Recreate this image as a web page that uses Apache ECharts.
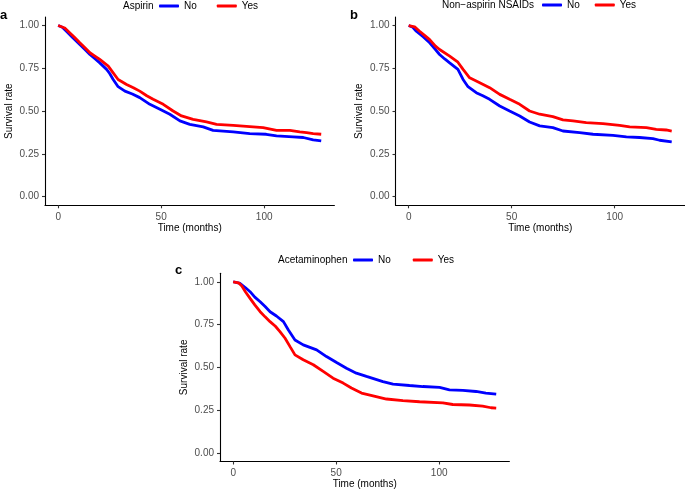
<!DOCTYPE html>
<html>
<head>
<meta charset="utf-8">
<script src="https://cdn.jsdelivr.net/npm/echarts@6/dist/echarts.min.js"></script>
<style>
  html, body { margin: 0; padding: 0; background: #fff; }
  #chart { width: 685px; height: 495px; }
</style>
</head>
<body>
<div id="chart"></div>
<script>
// ---- data (months, survival rate) ----
const xTicks = [0, 50, 100];
const yTicks = [0, 0.25, 0.5, 0.75, 1.0];
const yTickLabels = ['0.00', '0.25', '0.50', '0.75', '1.00'];

const aspirinNo = [
  [0,1.0],[2,0.99],[4,0.967],[7,0.93],[10.5,0.889],[13,0.86],[15.4,0.831],[18,0.805],[20.2,0.782],[23.5,0.744],
  [25,0.72],[26.7,0.685],[29.1,0.643],[32.4,0.617],[36,0.6],[39.6,0.579],[44.5,0.54],[49.4,0.511],[54.2,0.482],
  [59.1,0.443],[63.9,0.423],[70.4,0.408],[75.2,0.388],[85,0.379],[93,0.369],[101,0.365],[106,0.355],[114,0.35],
  [119,0.346],[123.8,0.332],[127.7,0.326]
];
const aspirinYes = [
  [0,1.0],[3.2,0.986],[5.7,0.957],[8,0.93],[10.5,0.899],[13,0.87],[15.4,0.841],[18,0.82],[20.2,0.802],[24.3,0.763],
  [26.7,0.724],[29.1,0.685],[33.2,0.656],[36.5,0.637],[39.6,0.617],[43,0.59],[46.1,0.569],[51,0.54],[55.8,0.501],
  [59.9,0.472],[65.5,0.452],[72,0.437],[76.9,0.423],[85,0.417],[93,0.41],[99.5,0.404],[106,0.388],[112.5,0.388],
  [117.3,0.379],[120.6,0.375],[123.8,0.369],[127.7,0.365]
];
const nsaidNo = [
  [0,1.0],[2,0.99],[3.7,0.967],[7,0.935],[10.2,0.899],[13,0.86],[15,0.831],[17.5,0.805],[19.9,0.782],[23.9,0.744],
  [26.4,0.685],[28.8,0.643],[32.8,0.608],[36,0.59],[39.3,0.569],[44.2,0.53],[49,0.501],[53.9,0.472],[58.7,0.437],
  [63.6,0.414],[70,0.404],[74.9,0.384],[83,0.375],[89.5,0.365],[99.2,0.359],[105.7,0.35],[112.1,0.346],
  [118.6,0.34],[121.8,0.33],[127.7,0.32]
];
const nsaidYes = [
  [0,1.0],[2.9,0.992],[5.3,0.967],[8,0.94],[10.2,0.918],[13,0.88],[15,0.86],[19.9,0.821],[23.9,0.786],[26.4,0.744],
  [29.6,0.695],[34.5,0.666],[39.3,0.637],[44.2,0.598],[49,0.569],[53.9,0.54],[58.7,0.501],[63.6,0.482],[70,0.468],
  [74.9,0.449],[79.8,0.443],[86.2,0.433],[94.3,0.427],[102.4,0.417],[107.3,0.408],[115.4,0.404],[120.2,0.394],
  [125,0.39],[127.7,0.384]
];
const acetNo = [
  [0,1.0],[3.4,0.99],[6,0.965],[8.2,0.942],[10.5,0.91],[13.1,0.883],[15.5,0.855],[17.9,0.825],[21,0.8],[24.4,0.767],
  [26.8,0.718],[30,0.66],[34,0.631],[40.5,0.602],[45.3,0.563],[50.2,0.528],[55,0.495],[59.8,0.466],[64.7,0.447],
  [72.7,0.417],[77.6,0.402],[85.6,0.394],[92.1,0.388],[100.2,0.383],[105,0.369],[111.5,0.365],[117.9,0.359],
  [122.7,0.35],[127.7,0.344]
];
const acetYes = [
  [0,1.0],[2.6,0.994],[4.2,0.975],[6,0.94],[8.2,0.903],[10.5,0.865],[13.1,0.825],[15.5,0.795],[17.9,0.767],[20.5,0.74],
  [22.7,0.709],[25.2,0.67],[27.6,0.621],[30,0.573],[34,0.544],[38.9,0.515],[43.7,0.476],[48.5,0.437],[53.4,0.408],
  [57.4,0.379],[62.3,0.35],[67.9,0.334],[74.4,0.315],[82.4,0.306],[90.5,0.299],[101.8,0.293],[106.6,0.283],
  [114.7,0.28],[121.1,0.274],[125.2,0.264],[127.7,0.262]
];

const panelTitles = ['Aspirin', 'Non\u2212aspirin NSAIDs', 'Acetaminophen'];
const panelLetters = ['a', 'b', 'c'];
const groupNames = ['No', 'Yes'];
const colors = { No: '#0000FF', Yes: '#FF0000' };

// ---- layout ----
const FONT = '"Liberation Sans", Arial, Helvetica, sans-serif';
const grids = [
  { left: 45, top: 17, width: 289.4, height: 188.3 },
  { left: 395.5, top: 17, width: 289.4, height: 188.3 },
  { left: 220, top: 273.2, width: 289.4, height: 188.3 }
];

const axisCommon = {
  axisLine: { show: true, onZero: false, lineStyle: { color: '#000', width: 1.1 } },
  axisTick: { show: true, length: 3, lineStyle: { color: '#333', width: 1.1 } },
  splitLine: { show: false },
  nameTextStyle: { color: '#000', fontFamily: FONT, fontSize: 10 }
};

const xAxes = grids.map((g, i) => Object.assign({}, axisCommon, {
  type: 'value', gridIndex: i, min: -6.4, max: 134.1,
  axisTick: Object.assign({}, axisCommon.axisTick, { customValues: xTicks }),
  axisLabel: { customValues: xTicks, color: '#4D4D4D', fontFamily: FONT, fontSize: 10, margin: 7 },
  name: 'Time (months)', nameLocation: 'middle', nameGap: 18
}));
const yAxes = grids.map((g, i) => Object.assign({}, axisCommon, {
  type: 'value', gridIndex: i, min: -0.05, max: 1.05,
  axisTick: Object.assign({}, axisCommon.axisTick, { customValues: yTicks }),
  axisLabel: {
    customValues: yTicks, color: '#4D4D4D', fontFamily: FONT, fontSize: 10, margin: 6,
    formatter: v => yTickLabels[yTicks.findIndex(t => Math.abs(t - v) < 1e-6)]
  },
  name: 'Survival rate', nameLocation: 'middle', nameGap: 31
}));

const seriesData = [
  [aspirinNo, aspirinYes],
  [nsaidNo, nsaidYes],
  [acetNo, acetYes]
];
const series = [];
seriesData.forEach((pair, i) => {
  pair.forEach((d, j) => {
    series.push({
      type: 'line', name: groupNames[j], xAxisIndex: i, yAxisIndex: i,
      data: d, showSymbol: false, symbol: 'none', smooth: false,
      lineStyle: { color: colors[groupNames[j]], width: 2.8 },
      itemStyle: { color: colors[groupNames[j]] },
      animation: false, silent: true
    });
  });
});

const legendPos = [
  { left: 159, top: 1, itemGap: 20 },
  { left: 542, top: 0, itemGap: 15 },
  { left: 353, top: 255, itemGap: 22 }
];
const legends = legendPos.map(p => ({
  data: groupNames, orient: 'horizontal', left: p.left, top: p.top, padding: 0,
  itemGap: p.itemGap, itemWidth: 20, itemHeight: 3, icon: 'roundRect',
  textStyle: { color: '#000', fontFamily: FONT, fontSize: 10 }, selectedMode: false
}));

const titles = [
  { text: panelTitles[0], left: 123, top: 1 },
  { text: panelTitles[1], left: 442, top: 0 },
  { text: panelTitles[2], left: 278, top: 255 },
  { text: panelLetters[0], left: 0, top: 9, bold: true },
  { text: panelLetters[1], left: 350, top: 9, bold: true },
  { text: panelLetters[2], left: 175, top: 264, bold: true }
].map(t => ({
  text: t.text, left: t.left, top: t.top, padding: 0,
  textStyle: t.bold
    ? { fontFamily: FONT, fontSize: 13, fontWeight: 'bold', color: '#000' }
    : { fontFamily: FONT, fontSize: 10, fontWeight: 'normal', color: '#000' }
}));

const chart = echarts.init(document.getElementById('chart'), null, { renderer: 'canvas' });
chart.setOption({
  backgroundColor: '#fff',
  animation: false,
  title: titles,
  legend: legends,
  grid: grids,
  xAxis: xAxes,
  yAxis: yAxes,
  series: series
});
</script>
</body>
</html>
